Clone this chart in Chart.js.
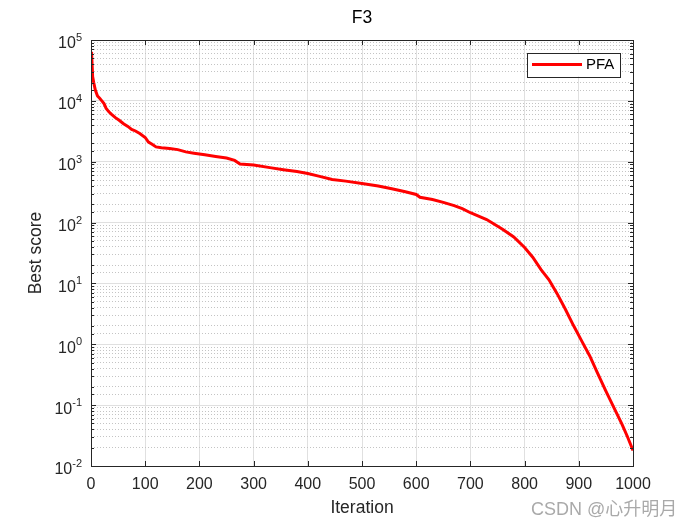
<!DOCTYPE html>
<html><head><meta charset="utf-8">
<script src="https://cdn.jsdelivr.net/npm/chart.js@4/dist/chart.umd.min.js"></script>
<style>html,body{margin:0;padding:0;background:#fff}#wrap{width:700px;height:525px;position:relative}</style>
</head><body><div id="wrap"><canvas id="c" width="700" height="525"></canvas></div>
<script>
const titleText = 'F3';
const xLabel = 'Iteration';
const yLabel = 'Best score';
const seriesName = 'PFA';
const watermark = 'CSDN @心升明月';
const xTicks = [0, 100, 200, 300, 400, 500, 600, 700, 800, 900, 1000];
const yDecades = [-2, -1, 0, 1, 2, 3, 4, 5];
const iterations = [1, 3, 5, 8, 12, 16, 20, 24, 28, 33, 38, 45, 52, 60, 68, 75, 82, 90, 100, 106, 112, 120, 130, 145, 160, 175, 190, 210, 230, 250, 265, 275, 300, 330, 355, 380, 400, 420, 445, 470, 500, 530, 555, 580, 600, 607, 630, 650, 670, 685, 700, 715, 730, 745, 760, 780, 800, 815, 830, 845, 860, 875, 890, 905, 920, 935, 950, 965, 980, 990, 1000];
const bestScore = [64000, 25000, 20000, 15000, 12000, 11000, 10000, 9000, 7500, 6600, 6000, 5300, 4800, 4200, 3800, 3400, 3200, 2900, 2500, 2100, 1950, 1750, 1700, 1650, 1580, 1450, 1380, 1300, 1220, 1150, 1050, 920, 880, 800, 740, 690, 640, 580, 510, 480, 440, 400, 360, 320, 290, 260, 240, 215, 190, 170, 145, 128, 112, 93, 77, 58, 39, 27, 17, 11.5, 6.8, 3.8, 2.05, 1.15, 0.65, 0.33, 0.17, 0.09, 0.048, 0.03, 0.018];

const FONT = '"Liberation Sans", Arial, Helvetica, sans-serif';
const AX = '#262626';
const isDecade = v => { const l = Math.log10(v); return Math.abs(l - Math.round(l)) < 1e-6; };

const framePlugin = {
  id: 'frame',
  afterDraw(chart) {
    const ctx = chart.ctx, a = chart.chartArea;
    const xs = chart.scales.x, ys = chart.scales.y;
    ctx.save();
    ctx.strokeStyle = AX; ctx.lineWidth = 1;
    ctx.beginPath();
    xTicks.forEach(t => {
      const px = Math.round(xs.getPixelForValue(t)) + 0.5;
      ctx.moveTo(px, a.bottom); ctx.lineTo(px, a.bottom - 5);
      ctx.moveTo(px, a.top); ctx.lineTo(px, a.top + 5);
    });
    ys.ticks.forEach(t => {
      const py = Math.round(ys.getPixelForValue(t.value)) + 0.5;
      const len = isDecade(t.value) ? 5 : 3;
      ctx.moveTo(a.left, py); ctx.lineTo(a.left + len, py);
      ctx.moveTo(a.right, py); ctx.lineTo(a.right - len, py);
    });
    ctx.stroke();
    ctx.strokeRect(Math.round(a.left) + 0.5, Math.round(a.top) + 0.5, Math.round(a.right - a.left), Math.round(a.bottom - a.top));
    ctx.fillStyle = AX;
    yDecades.forEach(d => {
      const py = ys.getPixelForValue(Math.pow(10, d));
      const exp = String(d);
      ctx.font = '11px ' + FONT;
      const we = ctx.measureText(exp).width;
      ctx.font = '16px ' + FONT;
      const w10 = ctx.measureText('10').width;
      const right = a.left - 9;
      ctx.textBaseline = 'middle'; ctx.textAlign = 'left';
      ctx.fillText('10', right - we - w10, py + 4);
      ctx.font = '11px ' + FONT;
      ctx.fillText(exp, right - we, py - 2);
    });
    const lx = a.right - 106, ly = a.top + 12.5, lw = 93, lh = 24;
    ctx.fillStyle = '#fff';
    ctx.fillRect(lx, ly, lw, lh);
    ctx.strokeStyle = AX; ctx.lineWidth = 1;
    ctx.strokeRect(Math.round(lx) + 0.5, Math.round(ly) + 0.5, lw, lh);
    const ds = chart.data.datasets[0];
    ctx.strokeStyle = ds.borderColor; ctx.lineWidth = 3;
    ctx.beginPath(); ctx.moveTo(lx + 5, ly + 12); ctx.lineTo(lx + 55, ly + 12); ctx.stroke();
    ctx.fillStyle = '#000'; ctx.font = '15px ' + FONT; ctx.textBaseline = 'middle'; ctx.textAlign = 'left';
    ctx.fillText(ds.label, lx + 59, ly + 12.5);
    ctx.font = '18px ' + FONT + ', "Noto Sans CJK SC"';
    ctx.fillStyle = 'rgba(140,140,140,0.75)';
    ctx.textBaseline = 'alphabetic';
    ctx.fillText(watermark, 531, 515);
    ctx.restore();
  }
};

new Chart(document.getElementById('c'), {
  type: 'line',
  data: {
    datasets: [{
      label: seriesName,
      data: iterations.map((x, i) => ({ x: x, y: bestScore[i] })),
      borderColor: '#ff0000',
      borderWidth: 3,
      pointRadius: 0,
      tension: 0,
      fill: false
    }]
  },
  options: {
    responsive: false,
    devicePixelRatio: 1,
    animation: false,
    layout: { padding: { top: 0, right: 67, left: 0, bottom: 0 } },
    plugins: {
      legend: { display: false },
      tooltip: { enabled: false },
      title: {
        display: true, text: titleText, fullSize: false, color: '#000',
        font: { family: FONT, size: 17.5, weight: 'normal', lineHeight: 1.2 },
        padding: { top: 8, bottom: 11 }
      }
    },
    scales: {
      x: {
        type: 'linear', min: 0, max: 1000,
        afterBuildTicks: s => { s.ticks = xTicks.map(v => ({ value: v })); },
        ticks: { color: AX, font: { family: FONT, size: 16 }, padding: 9, maxRotation: 0, autoSkip: false,
                 callback: v => String(v) },
        grid: { color: '#e0e0e0', drawTicks: false, lineWidth: 1 },
        border: { display: false },
        title: { display: true, text: xLabel, color: AX, font: { family: FONT, size: 17.5 }, padding: { top: 0, bottom: 6 } },
        afterFit: s => { s.height = 59; }
      },
      y: {
        type: 'logarithmic', min: 0.01, max: 100000,
        ticks: { display: false, autoSkip: false },
        grid: {
          drawTicks: false, lineWidth: 1,
          color: c => (c.tick && !isDecade(c.tick.value)) ? '#c4c4c4' : '#e0e0e0'
        },
        border: {
          display: false,
          dash: c => (c.tick && !isDecade(c.tick.value)) ? [1, 2] : []
        },
        title: { display: true, text: yLabel, color: AX, font: { family: FONT, size: 17.5 }, padding: { top: 26, bottom: 0 } },
        afterFit: s => { s.width = 91; }
      }
    }
  },
  plugins: [framePlugin]
});
</script>
</body></html>
